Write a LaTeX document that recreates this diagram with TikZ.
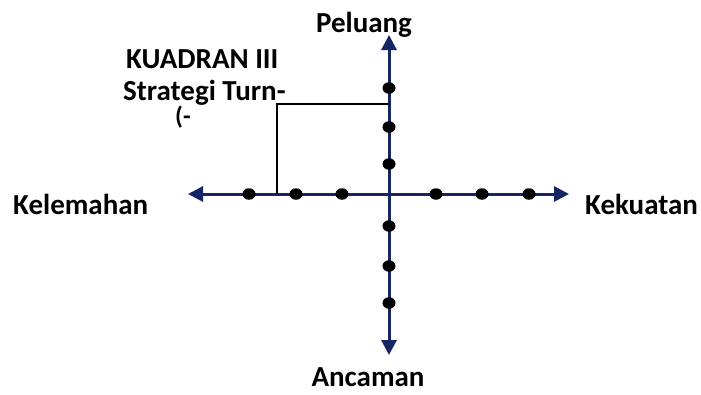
\documentclass[tikz,border=0pt]{standalone}
\usepackage{fontspec}
\setmainfont{Carlito}
\usetikzlibrary{arrows.meta,shapes.geometric}
\definecolor{axisblue}{RGB}{22,38,100}
\begin{document}
\begin{tikzpicture}[x=1pt,y=-1pt,
  axis/.style={draw=axisblue,line width=3pt,{Triangle[length=15pt,width=15pt]}-{Triangle[length=15pt,width=15pt]}},
  dot/.style={fill=black,ellipse,minimum width=13pt,minimum height=11.5pt,inner sep=0pt},
  lbl/.style={font=\fontsize{29}{31}\selectfont\bfseries,inner sep=0pt},
  bracket/.style={draw=black,line width=2.8pt}]
\useasboundingbox (0,0) rectangle (701,394);
\coordinate (L) at (188,194);
\coordinate (R) at (569,194);
\coordinate (T) at (389,35);
\coordinate (B) at (389,355);
\coordinate (O) at (389,194);
\draw[axis] (L) -- (R);
\draw[axis] (T) -- (B);
\coordinate (b1) at (389,104);
\coordinate (b2) at (277,104);
\coordinate (b3) at (277,194);
\draw[bracket] (b1) -- (b2) -- (b3);
\foreach \x [count=\i] in {249,296,342,436,482,529}
  \node[dot] (h\i) at (\x,194) {};
\foreach \y [count=\i] in {88,127,164,226,266,303}
  \node[dot] (v\i) at (389,\y) {};
\node[lbl,anchor=base west] (kel) at (13,214) {Kelemahan};
\node[lbl,anchor=base west] (kek) at (585,214) {Kekuatan};
\node[lbl,anchor=base] (anc) at (368,386) {Ancaman};
\node[lbl,anchor=base] (pel) at (364,32) {Peluang};
\node[lbl,anchor=base west] (kua) at (126,68) {KUADRAN III};
\node[lbl,anchor=base west] (str) at (123,100) {Strategi Turn-};
\node[lbl,anchor=base west,font=\fontsize{25}{27}\selectfont\bfseries] (par) at (175,124) {(-};
\end{tikzpicture}
\end{document}
